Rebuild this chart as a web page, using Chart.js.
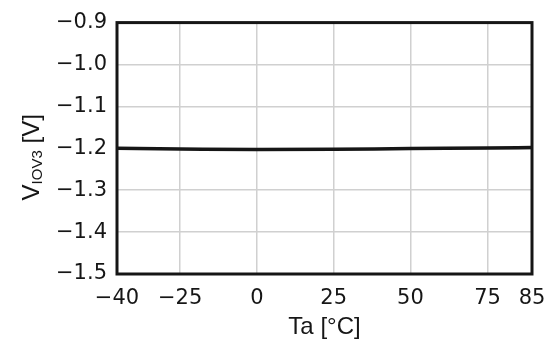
<!DOCTYPE html>
<html>
<head>
<meta charset="utf-8">
<style>
  html, body { margin: 0; padding: 0; background: #fff; }
  #wrap { width: 558px; height: 344px; position: relative; }
</style>
</head>
<body>
<div id="wrap"><canvas id="chart"></canvas></div>
<script src="https://cdn.jsdelivr.net/npm/chart.js@4/dist/chart.umd.min.js"></script>
<script>
// Ambient temperature (°C) at each measurement point
const temperatures = [-40, -25, 0, 25, 50, 75, 85];
// V_IOV3 measured at each temperature (V)
const vIov3 = [-1.200, -1.2015, -1.203, -1.2025, -1.2005, -1.1995, -1.198];
// Axis tick values
const xTickValues = [-40, -25, 0, 25, 50, 75, 85];
const yTickValues = [-0.9, -1.0, -1.1, -1.2, -1.3, -1.4, -1.5];

// Where each x tick sits along the axis (0 = left edge, 1 = right edge);
// the temperature axis is drawn with uneven tick spacing.
const xTickSlots = [0, 0.152, 0.337, 0.522, 0.707, 0.893, 1];

function toSlot(v) {
  const t = xTickValues;
  if (v <= t[0]) return xTickSlots[0] + (v - t[0]) / (t[1] - t[0]) * (xTickSlots[1] - xTickSlots[0]);
  for (let i = 0; i < t.length - 1; i++) {
    if (v <= t[i + 1]) {
      return xTickSlots[i] + (v - t[i]) / (t[i + 1] - t[i]) * (xTickSlots[i + 1] - xTickSlots[i]);
    }
  }
  const n = t.length - 1;
  return xTickSlots[n] + (v - t[n]) / (t[n] - t[n - 1]) * (xTickSlots[n] - xTickSlots[n - 1]);
}
function fromSlot(d) {
  const s = xTickSlots, t = xTickValues;
  for (let i = 0; i < s.length - 1; i++) {
    if (d <= s[i + 1] || i === s.length - 2) {
      return t[i] + (d - s[i]) / (s[i + 1] - s[i]) * (t[i + 1] - t[i]);
    }
  }
  return t[t.length - 1];
}

// Linear scale whose value-to-pixel mapping follows the tick slots above
class SlottedScale extends Chart.LinearScale {
  getPixelForValue(value) {
    return value === null ? NaN : this.getPixelForDecimal(toSlot(value));
  }
  getValueForPixel(pixel) {
    return fromSlot(this.getDecimalForPixel(pixel));
  }
}
SlottedScale.id = 'slotted';
SlottedScale.defaults = Chart.LinearScale.defaults;
Chart.register(SlottedScale);

const INK = '#161616';
const GRID = '#d0d0d0';
const tickFont = { family: '"DejaVu Sans"', size: 21 };
const titleFamily = '"Liberation Sans", Arial, sans-serif';

function signed(v, digits) {
  const s = Math.abs(v).toFixed(digits);
  return v < 0 ? '\u2212' + s : s;
}

// Heavy frame around the plot area
const framePlugin = {
  id: 'frame',
  afterDatasetsDraw(chart) {
    const { ctx, chartArea: a } = chart;
    ctx.save();
    ctx.strokeStyle = INK;
    ctx.lineWidth = 3;
    ctx.strokeRect(a.left, a.top, a.right - a.left, a.bottom - a.top);
    ctx.restore();
  }
};

// Rotated y-axis title with subscript: V_IOV3 [V]
const yTitlePlugin = {
  id: 'yTitle',
  afterDraw(chart) {
    const { ctx, chartArea: a } = chart;
    const big = '24px ' + titleFamily;
    const small = '15px ' + titleFamily;
    ctx.save();
    ctx.font = big;
    const wV = ctx.measureText('V').width;
    const wTail = ctx.measureText(' [V]').width;
    ctx.font = small;
    const wSub = ctx.measureText('IOV3').width;
    const total = wV + wSub + wTail;
    const cy = (a.top + a.bottom) / 2 + 9;
    ctx.translate(a.left - 78, cy + total / 2);
    ctx.rotate(-Math.PI / 2);
    ctx.fillStyle = INK;
    ctx.textAlign = 'left';
    ctx.textBaseline = 'alphabetic';
    ctx.font = big;
    ctx.fillText('V', 0, 0);
    ctx.font = small;
    ctx.fillText('IOV3', wV, 3);
    ctx.font = big;
    ctx.fillText(' [V]', wV + wSub, 0);
    ctx.restore();
  }
};

new Chart(document.getElementById('chart'), {
  type: 'line',
  data: {
    datasets: [{
      data: temperatures.map((t, i) => ({ x: t, y: vIov3[i] })),
      borderColor: INK,
      borderWidth: 3.5,
      pointRadius: 0,
      cubicInterpolationMode: 'monotone',
      fill: false
    }]
  },
  options: {
    responsive: true,
    maintainAspectRatio: false,
    animation: false,
    devicePixelRatio: 1,
    layout: { padding: { top: 17, right: 26, left: 0, bottom: 0 } },
    plugins: { legend: { display: false }, tooltip: { enabled: false } },
    scales: {
      x: {
        type: 'slotted',
        min: -40,
        max: 85,
        afterBuildTicks: s => { s.ticks = xTickValues.map(v => ({ value: v })); },
        afterFit: s => { s.height = 70; },
        grid: { color: GRID, lineWidth: 1.5, drawTicks: false },
        border: { display: false },
        ticks: {
          autoSkip: false, maxRotation: 0, padding: 12,
          font: tickFont, color: INK,
          callback: v => signed(v, 0)
        },
        title: {
          display: true, text: 'Ta [°C]', color: INK,
          font: { family: titleFamily, size: 24 },
          padding: { top: 0, bottom: 2 }
        }
      },
      y: {
        type: 'linear',
        min: -1.5,
        max: -0.9,
        afterBuildTicks: s => { s.ticks = yTickValues.map(v => ({ value: v })); },
        afterFit: s => { s.width = 117; },
        grid: { color: GRID, lineWidth: 1.5, drawTicks: false },
        border: { display: false },
        ticks: {
          padding: 10, font: tickFont, color: INK,
          callback: v => signed(v, 1)
        }
      }
    }
  },
  plugins: [framePlugin, yTitlePlugin]
});
</script>
</body>
</html>
